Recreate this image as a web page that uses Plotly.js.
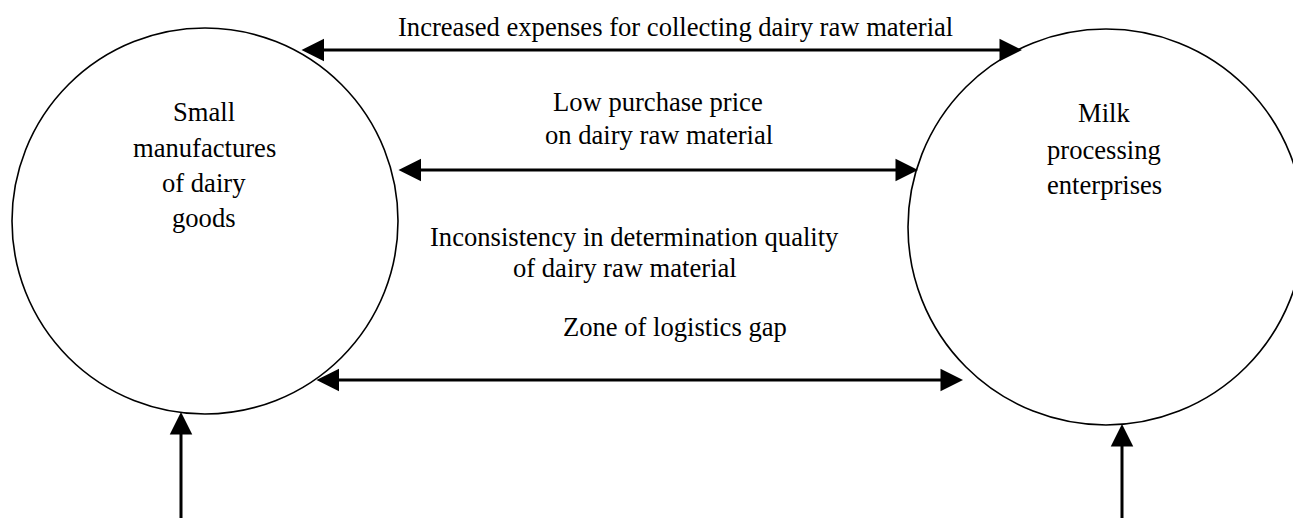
<!DOCTYPE html>
<html>
<head>
<meta charset="utf-8">
<script src="https://cdn.plot.ly/plotly-3.0.1.min.js"></script>
<style>html,body{margin:0;padding:0;background:#fff;}#chart{width:1293px;height:518px;}</style>
</head>
<body>
<div id="chart"></div>
<script>
// Nodes (circles) of the diagram
const nodeNames = ["Small manufactures of dairy goods", "Milk processing enterprises"];
const nodeLines = [["Small", "manufactures", "of dairy", "goods"], ["Milk", "processing", "enterprises"]];
const nodeCenterX = [205, 1106];
const nodeCenterY = [221, 227];
const nodeRadius = [193, 198];
const nodeLineX = [[204, 204, 204, 204], [1104, 1104, 1104]];
const nodeLineY = [[112, 148, 183, 218], [113, 150, 185]];

// Gap labels
const gapLines = ["Increased expenses for collecting dairy raw material", "Low purchase price", "on dairy raw material",
                  "Inconsistency in determination quality", "of dairy raw material", "Zone of logistics gap"];
const gapLineX = [675, 658, 659, 634, 625, 675];
const gapLineY = [27, 102, 135, 237, 268, 327];

// Double-headed arrows between circles
const linkX0 = [300, 397, 315];
const linkX1 = [1022, 918, 963];
const linkY = [50, 170, 380];

// Incoming vertical arrows from below
const inX = [181, 1122];
const inYTip = [412, 424];
const inYTail = [530, 530];

const shapes = [];
for (let i = 0; i < nodeNames.length; i++) {
  shapes.push({
    type: "circle", xref: "x", yref: "y",
    x0: nodeCenterX[i] - nodeRadius[i], x1: nodeCenterX[i] + nodeRadius[i],
    y0: nodeCenterY[i] - nodeRadius[i], y1: nodeCenterY[i] + nodeRadius[i],
    line: {color: "#000", width: 1.6}, fillcolor: "rgba(0,0,0,0)"
  });
}

const textFont = {family: "Liberation Serif, Times New Roman, serif", size: 26.6, color: "#000"};
const annotations = [];
for (let i = 0; i < nodeLines.length; i++) {
  nodeLines[i].forEach((t, j) => {
    annotations.push({x: nodeLineX[i][j], y: nodeLineY[i][j], xref: "x", yref: "y", text: t,
      showarrow: false, xanchor: "center", yanchor: "middle", font: textFont});
  });
}
gapLines.forEach((t, i) => {
  annotations.push({x: gapLineX[i], y: gapLineY[i], xref: "x", yref: "y", text: t,
    showarrow: false, xanchor: "center", yanchor: "middle", font: textFont});
});
for (let i = 0; i < linkY.length; i++) {
  annotations.push({x: linkX1[i], y: linkY[i], ax: linkX0[i], ay: linkY[i], xref: "x", yref: "y", axref: "x", ayref: "y",
    text: "", showarrow: true, arrowside: "end+start", arrowhead: 2, startarrowhead: 2, arrowsize: 1.5, startarrowsize: 1.5,
    arrowwidth: 3, arrowcolor: "#000", standoff: 0, startstandoff: 0});
}
for (let i = 0; i < inX.length; i++) {
  annotations.push({x: inX[i], y: inYTip[i], ax: inX[i], ay: inYTail[i], xref: "x", yref: "y", axref: "x", ayref: "y",
    text: "", showarrow: true, arrowhead: 2, arrowsize: 1.5, arrowwidth: 3, arrowcolor: "#000", standoff: 0});
}

const layout = {
  width: 1293, height: 518,
  margin: {l: 0, r: 0, t: 0, b: 0},
  paper_bgcolor: "#fff", plot_bgcolor: "#fff",
  showlegend: false,
  xaxis: {range: [0, 1293], visible: false, fixedrange: true},
  yaxis: {range: [518, 0], visible: false, fixedrange: true},
  shapes: shapes,
  annotations: annotations
};

Plotly.newPlot("chart", [{x: [], y: [], type: "scatter", mode: "markers", hoverinfo: "skip"}], layout, {staticPlot: true, displayModeBar: false});
</script>
</body>
</html>
